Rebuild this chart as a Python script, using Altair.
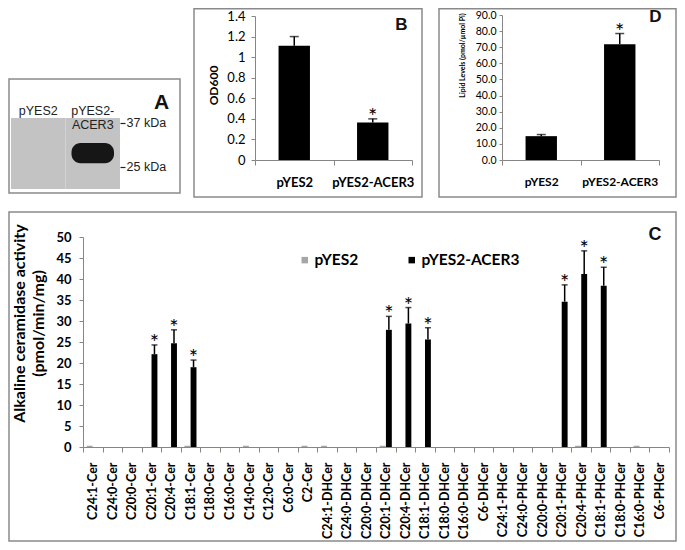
import altair as alt
import pandas as pd

# ---------------- data ----------------
# Panel A: western blot
lanes = ["pYES2", "pYES2-ACER3"]
blot_kda_range = [20.5, 38.6]      # molecular-weight span of the membrane strip
band_lane = ["pYES2-ACER3"]
band_kda = [30.9, 25.8]            # upper / lower edge of the ACER3 band
marker_kda = [37, 25]

# Panel B: growth (OD600)
b_groups = ["pYES2", "pYES2-ACER3"]
b_od600 = [1.11, 0.365]
b_err = [0.09, 0.035]
b_sig = ["", "*"]

# Panel D: lipid levels
d_groups = ["pYES2", "pYES2-ACER3"]
d_lipid = [14.8, 71.8]
d_err = [1.0, 6.7]
d_sig = ["", "*"]

# Panel C: alkaline ceramidase activity
c_substrates = ["C24:1-Cer", "C24:0-Cer", "C20:0-Cer", "C20:1-Cer", "C20:4-Cer", "C18:1-Cer",
                "C18:0-Cer", "C16:0-Cer", "C14:0-Cer", "C12:0-Cer", "C6:0-Cer", "C2-Cer",
                "C24:1-DHCer", "C24:0-DHCer", "C20:0-DHCer", "C20:1-DHCer", "C20:4-DHCer",
                "C18:1-DHCer", "C18:0-DHCer", "C16:0-DHCer", "C6-DHCer", "C24:1-PHCer",
                "C24:0-PHCer", "C20:0-PHCer", "C20:1-PHCer", "C20:4-PHCer", "C18:1-PHCer",
                "C18:0-PHCer", "C16:0-PHCer", "C6-PHCer"]
c_series = ["pYES2", "pYES2-ACER3"]
c_pyes2 = [0.3, 0, 0, 0, 0, 0.3, 0, 0, 0.3, 0, 0, 0.3, 0.3, 0, 0,
           0.3, 0, 0, 0, 0, 0, 0, 0, 0, 0, 0.3, 0, 0, 0.3, 0]
c_acer3 = [0, 0, 0, 22.1, 24.7, 19.0, 0, 0, 0, 0, 0, 0, 0, 0, 0,
           27.9, 29.4, 25.6, 0, 0, 0, 0, 0, 0, 34.6, 41.2, 38.4, 0, 0, 0]
c_acer3_err = [0, 0, 0, 2.2, 3.2, 1.7, 0, 0, 0, 0, 0, 0, 0, 0, 0,
               3.2, 3.8, 2.8, 0, 0, 0, 0, 0, 0, 4.0, 5.5, 4.4, 0, 0, 0]

# ---------------- layout ----------------
W, H = 669, 534
FONT = "Lato"
FONT_A = "Liberation Sans"
AX = "#868686"
FRAME = "#8a8a8a"
one = pd.DataFrame({"k": [0]})

# ---------------- Panel A ----------------
dfA = pd.DataFrame({"lane": lanes, "lo": blot_kda_range[0], "hi": blot_kda_range[1]})
dfA_band = pd.DataFrame({"lane": band_lane, "top": [band_kda[0]], "bottom": [band_kda[1]]})
xA = alt.Scale(domain=lanes, range=[3, 112], paddingInner=0, paddingOuter=0)
yA = alt.Scale(type="log", domain=blot_kda_range, range=[181, 110], nice=False)
axA_x = alt.Axis(orient="top", offset=-109, domain=False, ticks=False, tickSize=0, labelPadding=0,
                 grid=False, labelAngle=0, labelFont=FONT_A, labelFontSize=12.5,
                 labelColor="#222", labelLineHeight=14, title=None,
                 labelExpr="datum.value == 'pYES2-ACER3' ? ['pYES2-', 'ACER3'] : datum.value")
axA_y = alt.Axis(orient="right", offset=112 - W, values=marker_kda, domain=False, tickSize=5,
                 grid=False, tickColor="#222", tickWidth=1.2, labelPadding=1, labelFont=FONT_A,
                 labelFontSize=12.5, labelColor="#222", labelExpr="datum.value + ' kDa'",
                 title=None)
membrane = alt.Chart(dfA).mark_rect(color="#c3c3c3").encode(
    x=alt.X("lane:N", scale=xA, axis=axA_x, sort=lanes),
    y=alt.Y("hi:Q", scale=yA, axis=axA_y), y2="lo:Q")
band = alt.Chart(dfA_band).mark_bar(color="#161616", width={"band": 0.78}, cornerRadius=9).encode(
    x=alt.X("lane:N", scale=xA, axis=axA_x, sort=lanes),
    y=alt.Y("top:Q", scale=yA, axis=axA_y), y2="bottom:Q")
panelA = alt.layer(membrane, band)


# ---------------- helpers for B / D ----------------
def cat_axis(offset, size, pad):
    return alt.Axis(orient="bottom", offset=offset, title=None, labelAngle=0, tickBand="extent",
                    grid=False, tickSize=5, tickColor=AX, domainColor=AX, labelFont=FONT,
                    labelFontWeight="bold", labelFontSize=size, labelColor="#000", labelPadding=pad)


def bar_panel(groups, vals, errs, sigs, xs, ys, ax_x, ax_y, cap):
    df = pd.DataFrame({"g": groups, "v": vals,
                       "top": [v + e for v, e in zip(vals, errs)], "sig": sigs})
    X = alt.X("g:N", scale=xs, axis=ax_x, sort=groups)
    bars = alt.Chart(df).mark_bar(color="black", width={"band": 0.4}).encode(
        x=X, y=alt.Y("v:Q", scale=ys, axis=ax_y))
    err = alt.Chart(df).mark_rule(color="black", strokeWidth=1.5).encode(
        x=X, y=alt.Y("v:Q", scale=ys, axis=ax_y), y2="top:Q")
    caps = alt.Chart(df).mark_tick(color="black", size=cap, thickness=1.5).encode(
        x=X, y=alt.Y("top:Q", scale=ys, axis=ax_y))
    stars = alt.Chart(df).mark_text(font=FONT, fontSize=22, baseline="alphabetic", dy=5,
                                    color="black").encode(
        x=X, y=alt.Y("top:Q", scale=ys, axis=ax_y), text="sig:N")
    return alt.layer(bars, err, caps, stars)


# ---------------- Panel B ----------------
xB = alt.Scale(domain=b_groups, range=[247, 404], paddingInner=0, paddingOuter=0)
yB = alt.Scale(domain=[0, 1.4], range=[152, 8], nice=False)
axB_y = alt.Axis(orient="left", offset=-247, values=[0, 0.2, 0.4, 0.6, 0.8, 1.0, 1.2, 1.4],
                 grid=False, format="~g", tickSize=4, tickColor=AX, domainColor=AX,
                 labelPadding=6, labelFont=FONT, labelFontSize=13, labelColor="#000",
                 title="OD600", titleFont=FONT, titleFontWeight="bold", titleFontSize=12,
                 titleColor="#000", titleAngle=270, titleAlign="center",
                 titleBaseline="middle", titleX=-42, titleY=77)
panelB = bar_panel(b_groups, b_od600, b_err, b_sig, xB, yB, cat_axis(152 - H, 13, 11), axB_y, 9)

# ---------------- Panel D ----------------
xD = alt.Scale(domain=d_groups, range=[494, 651], paddingInner=0, paddingOuter=0)
yD = alt.Scale(domain=[0, 90], range=[152, 7], nice=False)
axD_y = alt.Axis(orient="left", offset=-494, values=list(range(0, 100, 10)), format=".1f",
                 grid=False, tickSize=3, tickColor=AX, domainColor=AX, labelPadding=3,
                 labelFont=FONT, labelFontSize=10.5, labelColor="#000",
                 title="Lipid Levels (pmol/µmol Pi)", titleFont=FONT, titleFontWeight="bold",
                 titleFontSize=7, titleColor="#000", titleAngle=270, titleAlign="center",
                 titleBaseline="middle", titleX=-40, titleY=47)
panelD = bar_panel(d_groups, d_lipid, d_err, d_sig, xD, yD, cat_axis(152 - H, 12, 11.5), axD_y, 9)

# ---------------- Panel C ----------------
rows = []
for i, s in enumerate(c_substrates):
    rows.append({"sub": s, "series": c_series[0], "v": c_pyes2[i], "top": c_pyes2[i], "sig": ""})
    rows.append({"sub": s, "series": c_series[1], "v": c_acer3[i],
                 "top": c_acer3[i] + c_acer3_err[i], "sig": "*" if c_acer3_err[i] > 0 else ""})
dfC = pd.DataFrame(rows)
dfC_err = dfC[dfC["top"] > dfC["v"]]

xC = alt.Scale(domain=c_substrates, range=[75, 661], paddingInner=0, paddingOuter=0)
xoC = alt.Scale(domain=c_series, paddingInner=0.05, paddingOuter=0.6)
yC = alt.Scale(domain=[0, 50], range=[439, 229], nice=False)
colC = alt.Scale(domain=c_series, range=["#a6a6a6", "#000000"])
axC_x = alt.Axis(orient="bottom", offset=439 - H, title=None, labelAngle=270, labelAlign="right",
                 grid=False, labelBaseline="middle", tickBand="extent", tickSize=5, tickColor=AX,
                 domainColor=AX, labelFont=FONT, labelFontWeight="bold", labelFontSize=12.5,
                 labelColor="#000", labelPadding=10)
axC_y = alt.Axis(orient="left", offset=-75, values=list(range(0, 55, 5)), tickSize=4,
                 grid=False, tickColor=AX, domainColor=AX, labelPadding=8, labelFont=FONT,
                 labelFontWeight="bold", labelFontSize=13, labelColor="#000",
                 title=["Alkaline ceramidase activity", "(pmol/min/mg)"], titleFont=FONT,
                 titleFontWeight="bold", titleFontSize=16, titleColor="#000", titleAngle=270,
                 titleAlign="center", titleBaseline="top", titleX=-72, titleY=315,
                 titleLineHeight=19)
legC = alt.Legend(orient="none", legendX=289, legendY=244, direction="horizontal", title=None,
                  symbolType="square", symbolSize=42, symbolStrokeWidth=0, labelFont=FONT,
                  labelFontWeight="bold", labelFontSize=15.5, labelColor="#000", labelOffset=2,
                  columnPadding=45, padding=0)
XC = alt.X("sub:N", scale=xC, axis=axC_x, sort=c_substrates)
XOC = alt.XOffset("series:N", scale=xoC, sort=c_series)
barsC = alt.Chart(dfC).mark_bar().encode(
    x=XC, xOffset=XOC, y=alt.Y("v:Q", scale=yC, axis=axC_y),
    color=alt.Color("series:N", scale=colC, legend=legC, sort=c_series))
errC = alt.Chart(dfC_err).mark_rule(color="black", strokeWidth=1.5).encode(
    x=XC, xOffset=XOC, y=alt.Y("v:Q", scale=yC, axis=axC_y), y2="top:Q")
capC = alt.Chart(dfC_err).mark_tick(color="black", size=6, thickness=1.5).encode(
    x=XC, xOffset=XOC, y=alt.Y("top:Q", scale=yC, axis=axC_y))
starC = alt.Chart(dfC_err).mark_text(font=FONT, fontSize=22, baseline="alphabetic", dy=5,
                                     color="black").encode(
    x=XC, xOffset=XOC, y=alt.Y("top:Q", scale=yC, axis=axC_y), text="sig:N")
panelC = alt.layer(barsC, errC, capC, starC)


# ---------------- frames and panel letters ----------------
def frame(x0, x1, y0, y1):
    return alt.Chart(one).mark_rect(fillOpacity=0, stroke=FRAME, strokeWidth=1.5).encode(
        x=alt.value(x0), x2=alt.value(x1), y=alt.value(y0), y2=alt.value(y1))


def letter(t, x, y, size):
    return alt.Chart(one).mark_text(text=t, font=FONT_A, fontSize=size, fontWeight="bold",
                                    baseline="middle", align="center", color="#111").encode(
        x=alt.value(x), y=alt.value(y))


frames = [frame(1, 172, 71, 185), frame(186, 414, 0.75, 189), frame(431, 668, 0.75, 189),
          frame(1, 668, 204, 533)]
letters = [letter("A", 153.5, 94.5, 21), letter("B", 393.5, 16.5, 17),
           letter("C", 647, 227, 18), letter("D", 647.5, 9, 17)]

chart = alt.layer(*frames, panelA, panelB, panelC, panelD, *letters).resolve_scale(
    x="independent", y="independent", xOffset="independent", color="independent"
).resolve_axis(x="independent", y="independent").properties(
    width=W, height=H, padding=0, autosize=alt.AutoSizeParams(type="none")
).configure_view(stroke=None)

chart.save("out.html", embed_options={"renderer": "svg", "actions": False})
